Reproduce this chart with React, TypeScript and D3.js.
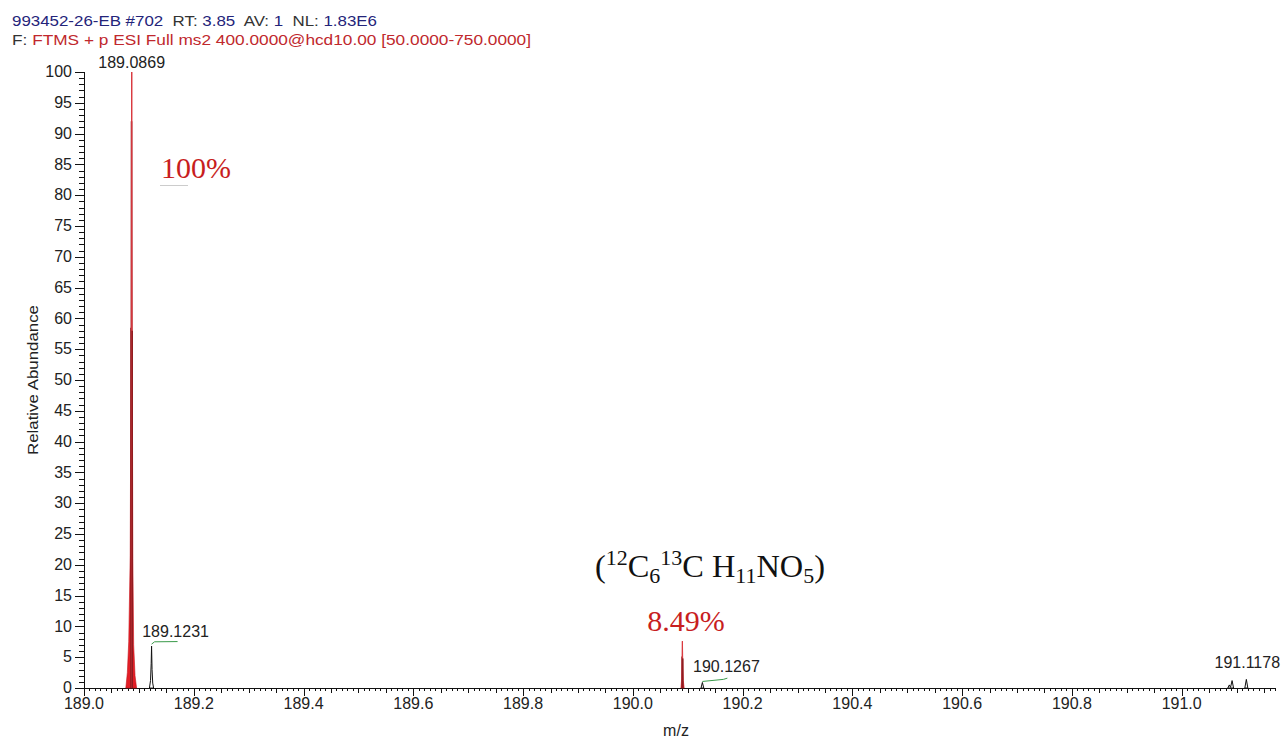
import { useEffect, useRef } from 'react'
import { select, scaleLinear, area, range } from 'd3'

// profile points of each peak: [m/z, relative abundance]
const mainPeak: [number, number][] = [
  [189.0762, 0], [189.0790, 2.5], [189.0815, 7.5], [189.0842, 21.5],
  [189.0858, 58.5], [189.0866, 92], [189.0869, 100], [189.0878, 58],
  [189.0890, 21], [189.0905, 7], [189.0930, 2], [189.0958, 0],
]
const peak1231: [number, number][] = [
  [189.1192, 0], [189.1212, 1.2], [189.1224, 4], [189.1231, 6.8],
  [189.1240, 3], [189.1252, 0.8], [189.1268, 0],
]
const isoPeak: [number, number][] = [
  [190.0876, 0], [190.0890, 1.5], [190.0898, 5.1], [190.0903, 7.6],
  [190.0909, 4.8], [190.0920, 1.2], [190.0934, 0],
]
const smallPeaks: [number, number][][] = [
  [[190.1242, 0], [190.1267, 0.9], [190.1292, 0]],
  [[191.0840, 0], [191.0868, 0.5], [191.0890, 0.1], [191.0918, 1.2], [191.0945, 0]],
  [[191.1150, 0], [191.1178, 1.4], [191.1205, 0]],
]

// peak labels: text, m/z where the label sits, abundance at label
const peakLabels = [
  { text: '189.0869', mz: 189.0869, y: 100, anchor: 'middle' },
  { text: '189.1231', mz: 189.1231 - 0.017, y: 7.7, anchor: 'start' },
  { text: '190.1267', mz: 190.1267 - 0.017, y: 1.9, anchor: 'start' },
  { text: '191.1178', mz: 191.1178 - 0.058, y: 2.6, anchor: 'start' },
]

const xLabels = [189.0, 189.2, 189.4, 189.6, 189.8, 190.0, 190.2, 190.4, 190.6, 190.8, 191.0]
const yLabels = range(0, 101, 5)

const W = 1283
const H = 742
const SANS = '"Liberation Sans", Arial, sans-serif'
const SERIF = '"Liberation Serif", "Times New Roman", serif'

export default function App() {
  const ref = useRef<SVGSVGElement>(null)

  useEffect(() => {
    const svg = select(ref.current)
    svg.selectAll('*').remove()

    const x = scaleLinear().domain([189.0, 191.17]).range([84, 1275])
    const y = scaleLinear().domain([0, 100]).range([688, 72])

    // header
    const head = svg.append('g').style('font', `15px ${SANS}`)
    const l1 = head.append('text').attr('x', 12).attr('y', 26)
      .attr('textLength', 365).attr('lengthAdjust', 'spacingAndGlyphs')
    const blue = '#24247a'
    const parts1 = [
      ['993452-26-EB #702', blue], ['  RT: ', '#333'], ['3.85', blue],
      ['  AV: ', '#333'], ['1', blue], ['  NL: ', '#333'], ['1.83E6', blue],
    ]
    parts1.forEach(([t, c]) => l1.append('tspan').attr('fill', c).style('white-space', 'pre').text(t))
    const l2 = head.append('text').attr('x', 12).attr('y', 45)
      .attr('textLength', 519).attr('lengthAdjust', 'spacingAndGlyphs')
    l2.append('tspan').attr('fill', '#333').style('white-space', 'pre').text('F: ')
    l2.append('tspan').attr('fill', '#c0282d').text('FTMS + p ESI Full ms2 400.0000@hcd10.00 [50.0000-750.0000]')

    // axes
    const ax = svg.append('g').attr('stroke', '#111').attr('stroke-width', 1)
    ax.append('line').attr('x1', x(189)).attr('x2', x(191.17)).attr('y1', y(0) + 0.5).attr('y2', y(0) + 0.5)
    ax.append('line').attr('x1', x(189) + 0.5).attr('x2', x(189) + 0.5).attr('y1', y(0)).attr('y2', y(100))

    range(0, 218).forEach(i => {
      const v = 189 + i * 0.01
      const len = i % 20 === 0 ? 8 : i % 5 === 0 ? 5 : 3
      const px = Math.round(x(v)) + 0.5
      ax.append('line').attr('x1', px).attr('x2', px).attr('y1', y(0)).attr('y2', y(0) + len)
    })
    range(0, 101).forEach(i => {
      const len = i % 5 === 0 ? 9 : 5
      const py = Math.round(y(i)) + 0.5
      ax.append('line').attr('x1', x(189)).attr('x2', x(189) - len).attr('y1', py).attr('y2', py)
    })

    const lab = svg.append('g').style('font', `16px ${SANS}`).attr('fill', '#222')
    lab.selectAll('.xl').data(xLabels).join('text')
      .attr('x', d => x(d)).attr('y', 708.5).attr('text-anchor', 'middle').text(d => d.toFixed(1))
    lab.selectAll('.yl').data(yLabels).join('text')
      .attr('x', 72).attr('y', d => y(d)).attr('dy', '0.33em').attr('text-anchor', 'end').text(d => d)

    svg.append('text').attr('transform', `translate(38,380) rotate(-90)`)
      .attr('text-anchor', 'middle').style('font', `15px ${SANS}`).attr('fill', '#222')
      .attr('textLength', 150).attr('lengthAdjust', 'spacingAndGlyphs').text('Relative Abundance')
    svg.append('text').attr('x', 676).attr('y', 736)
      .attr('text-anchor', 'middle').style('font', `16px ${SANS}`).attr('fill', '#222').text('m/z')

    // peaks
    const ar = area<[number, number]>().x(d => x(d[0])).y0(y(0)).y1(d => y(d[1]))
    const g = svg.append('g')
    ;[mainPeak, isoPeak].forEach(p => {
      const top = Math.max(...p.map(q => q[1]))
      g.append('path').attr('d', ar(p)).attr('fill', '#e31e26').attr('stroke', '#c2151c').attr('stroke-width', 0.6)
      p.forEach(d => {
        if (d[1] < top * 0.5) return
        const isTop = d[1] === top
        g.append('line').attr('x1', x(d[0])).attr('x2', x(d[0])).attr('y1', y(0)).attr('y2', y(d[1]))
          .attr('stroke', isTop ? '#db3a40' : '#8f1d21')
          .attr('stroke-width', isTop ? 1.2 : 1.6)
      })
    })
    ;[peak1231, ...smallPeaks].forEach(p => {
      g.append('path').attr('d', ar(p)).attr('fill', '#fff').attr('stroke', '#111').attr('stroke-width', 1)
    })

    // peak labels and connectors
    peakLabels.forEach(l => {
      lab.append('text').attr('x', x(l.mz)).attr('y', y(l.y) - 4)
        .attr('text-anchor', l.anchor).text(l.text)
    })
    const green = '#3a9a4a'
    g.append('path').attr('d', `M${x(189.1231)},${y(6.8) - 2} L${x(189.1231) + 3},${y(7.5)} L${x(189.1231) + 26},${y(7.7) + 1}`)
      .attr('fill', 'none').attr('stroke', green).attr('stroke-width', 1)
    g.append('path').attr('d', `M${x(190.1267)},${y(0.9) - 1} L${x(190.1267) + 21},${y(1.4)} L${x(190.1267) + 25},${y(1.6)}`)
      .attr('fill', 'none').attr('stroke', green).attr('stroke-width', 1)
    g.append('line').attr('x1', 160).attr('x2', 188).attr('y1', 185.5).attr('y2', 185.5)
      .attr('stroke', '#ccc').attr('stroke-width', 1)

    // annotations
    svg.append('text').attr('x', 161).attr('y', 178).style('font', `30px ${SERIF}`).attr('fill', '#c81e1e').text('100%')
    svg.append('text').attr('x', 686).attr('y', 631).attr('text-anchor', 'middle')
      .style('font', `30px ${SERIF}`).attr('fill', '#c81e1e').text('8.49%')

    const f = svg.append('text').attr('x', 595).attr('y', 577).style('font', `31px ${SERIF}`).attr('fill', '#111')
      .attr('textLength', 230).attr('lengthAdjust', 'spacingAndGlyphs')
    const sub = (t: string, shift: number) =>
      f.append('tspan').attr('font-size', 21).attr('dy', shift).text(t)
    f.append('tspan').text('(')
    sub('12', -12)
    f.append('tspan').attr('dy', 12).text('C')
    sub('6', 6)
    sub('13', -18)
    f.append('tspan').attr('dy', 12).text('C H')
    sub('11', 6)
    f.append('tspan').attr('dy', -6).text('NO')
    sub('5', 6)
    f.append('tspan').attr('dy', -6).text(')')
  }, [])

  return (
    <div style={{ position: 'absolute', left: 0, top: 0 }}>
      <svg ref={ref} width={W} height={H} style={{ display: 'block', background: '#fff' }}></svg>
    </div>
  )
}
